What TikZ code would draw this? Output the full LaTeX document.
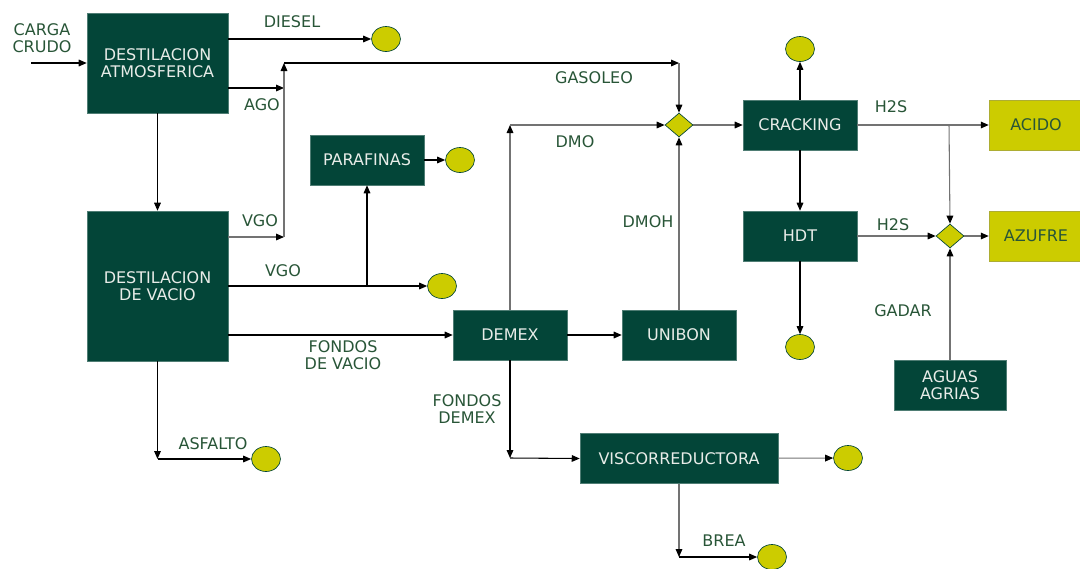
\documentclass[tikz,border=0pt]{standalone}
\usepackage{fontspec}
\setmainfont{DejaVu Sans}
\usetikzlibrary{arrows.meta,shapes.geometric}
\definecolor{verdeosc}{RGB}{3,69,56}
\definecolor{amarillo}{RGB}{204,204,0}
\definecolor{textoverde}{RGB}{40,85,55}
\definecolor{linea}{RGB}{115,115,115}
\definecolor{blanco}{RGB}{232,236,232}

\tikzset{
  unidad/.style={rectangle, fill=verdeosc, draw=verdeosc!70!white, text=blanco, align=center,
    inner sep=0pt, minimum width=85.5pt, minimum height=37.5pt,
    font=\fontsize{12}{12.5}\selectfont},
  producto/.style={rectangle, fill=amarillo, draw=amarillo!60!gray, text=textoverde,
    inner sep=0pt, minimum width=70.5pt, minimum height=37.5pt,
    font=\fontsize{12}{12.5}\selectfont},
  salida/.style={ellipse, fill=amarillo, draw=verdeosc, line width=0.5pt,
    minimum width=21.75pt, minimum height=18.75pt, inner sep=0pt},
  mezcla/.style={diamond, fill=amarillo, draw=verdeosc, line width=0.5pt,
    minimum width=21pt, minimum height=18pt, inner sep=0pt},
  etiq/.style={text=textoverde, align=center, inner sep=0pt,
    font=\fontsize{12}{12.5}\selectfont},
  flujo/.style={-{Triangle[length=6pt,width=5pt,color=black]}, line width=0.8pt},
  gris/.style={draw=linea}
}

\begin{document}
\begin{tikzpicture}[x=0.75pt,y=-0.75pt]
\useasboundingbox (0,0) rectangle (1080,568);

%Unidades
\node[unidad, minimum width=105.75pt, minimum height=75pt] (datm) at (157.5,63) {DESTILACION\\ATMOSFERICA};
\node[unidad, minimum width=105.75pt, minimum height=112.5pt] (dvac) at (157.5,286) {DESTILACION\\DE VACIO};
\node[unidad] (paraf) at (367,160) {PARAFINAS};
\node[unidad] (demex) at (510,335) {DEMEX};
\node[unidad] (unibon) at (679,335) {UNIBON};
\node[unidad] (crack) at (800,125) {CRACKING};
\node[unidad] (hdt) at (800,236) {HDT};
\node[unidad, minimum width=84pt] (aguas) at (950,385) {AGUAS\\AGRIAS};
\node[unidad, minimum width=148.5pt] (visc) at (679,458.5) {VISCORREDUCTORA};
\node[producto] (acido) at (1036,125) {ACIDO};
\node[producto] (azufre) at (1036,236) {AZUFRE};
\node[mezcla] (mez1) at (679,125) {};
\node[mezcla] (mez2) at (950,236) {};

%Salidas
\node[salida] (sdiesel) at (386,39) {};
\node[salida] (sparaf) at (460,160) {};
\node[salida] (svgo) at (442,286) {};
\node[salida] (sasf) at (266,459) {};
\node[salida] (scrack) at (800,49) {};
\node[salida] (shdt) at (800,347) {};
\node[salida] (svisc) at (848,458) {};
\node[salida] (sbrea) at (772,557) {};

%Puntos de quiebre
\coordinate (entrada) at (31,63);
\coordinate (ago) at (284,88);
\coordinate (vgo) at (284,237);
\coordinate (gas1) at (284,63);
\coordinate (gas2) at (679,63);
\coordinate (rparaf) at (367,286);
\coordinate (asf) at (157.5,459);
\coordinate (dmo) at (510,125);
\coordinate (rh2s) at (949,125);
\coordinate (fdem) at (510,458);
\coordinate (brea) at (679,557);

%Flujos
\draw[flujo] (entrada) -- (datm.west);
\draw[flujo] (datm.east |- sdiesel) -- (sdiesel.west);
\draw[flujo] (datm.east |- ago) -- (ago);
\draw[flujo] (datm) -- (dvac);
\draw[flujo, gris] (dvac.east |- vgo) -- (vgo);
\draw[flujo, gris] (vgo) -- (gas1);
\draw[flujo] (gas1) -- (gas2);
\draw[flujo, gris] (gas2) -- (mez1.north);
\draw[flujo] (dvac.east |- svgo) -- (svgo.west);
\draw[flujo] (rparaf) -- (paraf.south);
\draw[flujo] (paraf) -- (sparaf);
\draw[flujo] (dvac.east |- demex) -- (demex.west);
\draw[flujo] (dvac.south) -- (asf);
\draw[flujo] (asf) -- (sasf.west);
\draw[flujo, gris] (demex.north) -- (dmo);
\draw[flujo, gris] (dmo) -- (mez1.west);
\draw[flujo] (demex) -- (unibon);
\draw[flujo, gris] (unibon) -- (mez1);
\draw[flujo, gris] (mez1) -- (crack);
\draw[flujo] (crack) -- (scrack);
\draw[flujo] (crack) -- (hdt);
\draw[flujo] (hdt) -- (shdt);
\draw[flujo, gris] (crack) -- (acido);
\draw[flujo, gris] (rh2s) -- (mez2.north);
\draw[flujo, gris] (hdt) -- (mez2);
\draw[flujo, gris] (mez2) -- (azufre);
\draw[flujo, gris] (aguas) -- (mez2);
\draw[flujo] (demex.south) -- (fdem);
\draw[flujo] (fdem) -- (visc.west);
\draw[flujo, gris] (visc) -- (svisc);
\draw[flujo, gris] (visc.south) -- (brea);
\draw[flujo] (brea) -- (sbrea.west);

%Etiquetas
\node[etiq] (lcarga) at (42,38) {CARGA\\CRUDO};
\node[etiq] (ldiesel) at (292,22) {DIESEL};
\node[etiq] (lago) at (262,105) {AGO};
\node[etiq] (lgas) at (594,78) {GASOLEO};
\node[etiq] (lvgo1) at (260,221) {VGO};
\node[etiq] (lvgo2) at (283,271) {VGO};
\node[etiq] (lfv) at (343,355) {FONDOS\\DE VACIO};
\node[etiq] (lasf) at (213,444) {ASFALTO};
\node[etiq] (ldmo) at (575,142) {DMO};
\node[etiq] (ldmoh) at (648,222) {DMOH};
\node[etiq] (lh2s1) at (891,107) {H2S};
\node[etiq] (lh2s2) at (893,225) {H2S};
\node[etiq] (lgadar) at (903,311) {GADAR};
\node[etiq] (lfd) at (467,409) {FONDOS\\DEMEX};
\node[etiq] (lbrea) at (724,541) {BREA};
\end{tikzpicture}
\end{document}
